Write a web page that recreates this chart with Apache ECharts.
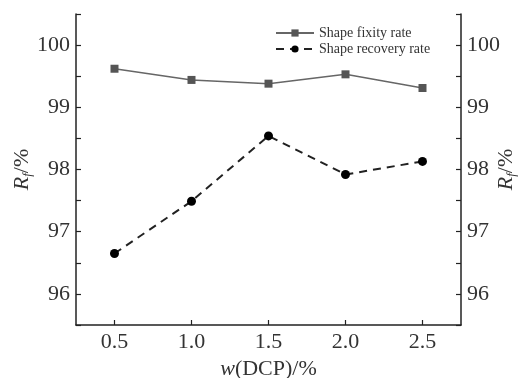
<!DOCTYPE html>
<html><head><meta charset="utf-8">
<script src="https://cdn.jsdelivr.net/npm/echarts@6/dist/echarts.min.js"></script>
<style>html,body{margin:0;padding:0;background:#fff}#c{width:528px;height:378px}</style>
</head><body><div id="c"></div>
<script>
const xValues = [0.5, 1.0, 1.5, 2.0, 2.5];
const fixityRate = [99.62, 99.44, 99.38, 99.53, 99.31];
const recoveryRate = [96.65, 97.49, 98.54, 97.92, 98.13];
const xTicks = [0.5, 1.0, 1.5, 2.0, 2.5];
const seriesNames = ['Shape fixity rate', 'Shape recovery rate'];

const FONT = '"Liberation Serif","Times New Roman",serif';
const chart = echarts.init(document.getElementById('c'), null, {renderer: 'canvas'});
const yName = '{i|R}{s|f}{n|/%}';
const nameRich = {
  i: {fontFamily: FONT, fontStyle: 'italic', fontSize: 22, color: '#333'},
  s: {fontFamily: FONT, fontStyle: 'italic', fontSize: 13, color: '#333', verticalAlign: 'bottom', padding: [10, 0, 0, 0]},
  n: {fontFamily: FONT, fontSize: 22, color: '#333'}
};
function yAxis(pos, gap) {
  return {
    type: 'value', position: pos, min: 95.5, max: 100.5, interval: 0.5,
    name: yName, nameLocation: 'middle', nameRotate: 90, nameGap: gap, nameMoveOverlap: false,
    nameTextStyle: {rich: nameRich},
    axisLine: {show: true, lineStyle: {color: '#222', width: 1.5}},
    axisTick: {show: true, inside: true, length: 5, lineStyle: {color: '#222', width: 1.2}},
    axisLabel: {margin: 6, fontFamily: FONT, fontSize: 22, color: '#333',
      formatter: v => (Math.abs(v - Math.round(v)) < 1e-6 && v > 95.6 && v < 100.4) ? String(Math.round(v)) : ''},
    splitLine: {show: false}
  };
}
chart.setOption({
  animation: false,
  grid: {left: 76, right: 67, top: 14, bottom: 53, containLabel: false, outerBoundsMode: 'none'},
  legend: {
    orient: 'vertical', left: 270, top: 21, itemGap: 2, itemWidth: 38, itemHeight: 9,
    textStyle: {fontFamily: FONT, fontSize: 14, color: '#333'},
    data: seriesNames
  },
  xAxis: {
    type: 'value', min: 0.25, max: 2.75,
    name: '{i|w}{n|(DCP)/%}', nameLocation: 'middle', nameGap: 28,
    nameTextStyle: {rich: {
      i: {fontFamily: FONT, fontStyle: 'italic', fontSize: 22, color: '#333'},
      n: {fontFamily: FONT, fontSize: 22, color: '#333'}
    }},
    axisLine: {show: true, onZero: false, lineStyle: {color: '#222', width: 1.5}},
    axisTick: {show: true, inside: true, length: 5, customValues: xTicks, lineStyle: {color: '#222', width: 1.2}},
    axisLabel: {margin: 6, fontFamily: FONT, fontSize: 22, color: '#333', customValues: xTicks,
      formatter: v => v.toFixed(1)},
    splitLine: {show: false}
  },
  yAxis: [yAxis('left', 42), yAxis('right', 34)],
  series: [
    {
      name: seriesNames[0], type: 'line', yAxisIndex: 0,
      data: xValues.map((x, i) => [x, fixityRate[i]]),
      symbol: 'rect', symbolSize: 8,
      itemStyle: {color: '#555'},
      lineStyle: {color: '#666', width: 1.5}
    },
    {
      name: seriesNames[1], type: 'line', yAxisIndex: 0,
      data: xValues.map((x, i) => [x, recoveryRate[i]]),
      symbol: 'circle', symbolSize: 9,
      itemStyle: {color: '#000'},
      lineStyle: {color: '#222', width: 2, type: [8, 6]}
    }
  ]
});
</script></body></html>
